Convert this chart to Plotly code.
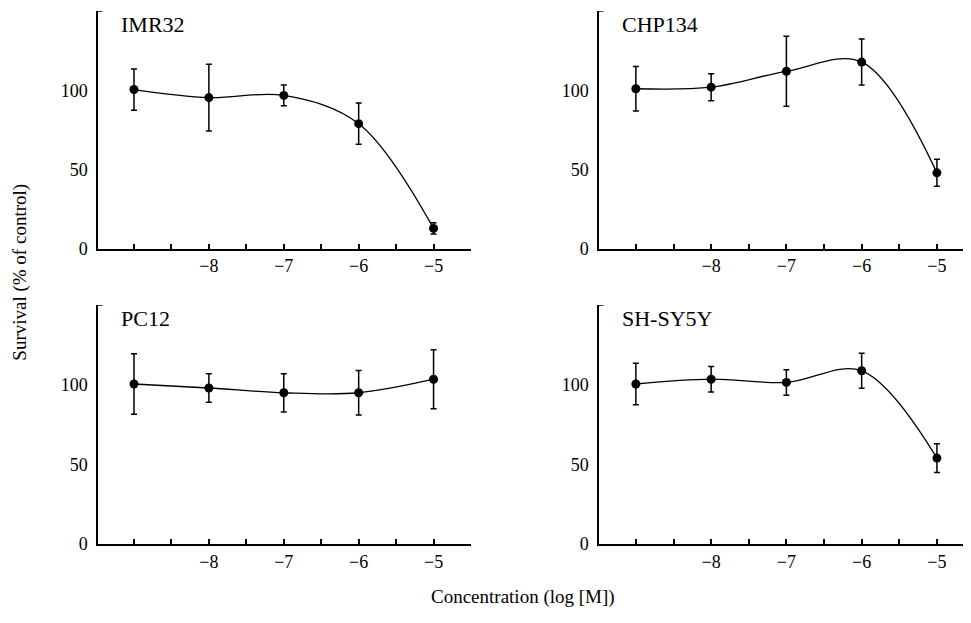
import plotly.graph_objects as go

conc = [-9, -8, -7, -6, -5]
panels = ["IMR32", "CHP134", "PC12", "SH-SY5Y"]
imr32_mean = [100.5, 95.4, 96.8, 79.0, 13.0]
imr32_err = [13.0, 21.0, 6.5, 13.0, 3.5]
chp134_mean = [101.0, 102.0, 112.0, 117.8, 48.0]
chp134_err = [14.0, 8.5, 22.0, 14.5, 8.5]
pc12_mean = [100.5, 98.0, 95.0, 95.0, 103.5]
pc12_err = [19.0, 9.0, 12.0, 14.0, 18.5]
shsy5y_mean = [100.5, 103.5, 101.5, 108.8, 54.0]
shsy5y_err = [13.0, 8.0, 8.0, 11.0, 9.0]

means = [imr32_mean, chp134_mean, pc12_mean, shsy5y_mean]
errs = [imr32_err, chp134_err, pc12_err, shsy5y_err]

xtick_vals = [-9, -8.5, -8, -7.5, -7, -6.5, -6, -5.5, -5, -4.5]
xtick_text = ["", "", "\u22128", "", "\u22127", "", "\u22126", "", "\u22125", ""]
ytick_vals = [0, 50, 100]
ytick_text = ["0", "50", "100"]

FONT = "Liberation Serif, Times New Roman, serif"

# page body has an 8px margin; figure is sized/placed to match the reference
W, H = 963, 615
xdomains = [[0.0935, 0.4808], [0.6137, 0.999], [0.0935, 0.4808], [0.6137, 0.999]]
ydomains = [[0.6016, 0.9951], [0.6016, 0.9951], [0.1138, 0.5089], [0.1138, 0.5089]]
xranges = [[-9.48, -4.5], [-9.49, -4.56], [-9.48, -4.5], [-9.49, -4.56]]

fig = go.Figure()
layout = {}
annotations = []
shapes = []
for i in range(4):
    sfx = "" if i == 0 else str(i + 1)
    fig.add_trace(go.Scatter(
        x=conc, y=means[i],
        mode="lines+markers",
        line=dict(color="black", width=1.3, shape="spline", smoothing=1.0),
        marker=dict(color="black", size=9),
        error_y=dict(type="data", array=errs[i], visible=True,
                     color="black", thickness=1.5, width=3),
        xaxis="x" + sfx, yaxis="y" + sfx, showlegend=False,
        hoverinfo="x+y",
    ))
    layout["xaxis" + sfx] = dict(
        domain=xdomains[i], anchor="y" + sfx, range=xranges[i],
        tickmode="array", tickvals=xtick_vals, ticktext=xtick_text,
        ticks="inside", ticklen=5, tickwidth=1.5, tickcolor="black",
        showline=True, linecolor="black", linewidth=1.5,
        showgrid=False, zeroline=False,
        tickfont=dict(family=FONT, size=18, color="black"),
    )
    layout["yaxis" + sfx] = dict(
        domain=ydomains[i], anchor="x" + sfx, range=[0, 150],
        tickmode="array", tickvals=ytick_vals, ticktext=ytick_text,
        ticks="", ticklabelstandoff=5,
        showline=True, linecolor="black", linewidth=1.5,
        showgrid=False, zeroline=False,
        tickfont=dict(family=FONT, size=18, color="black"),
    )
    annotations.append(dict(
        text=panels[i], xref="x" + sfx + " domain", yref="y" + sfx + " domain",
        x=0.056, y=0.942, xanchor="left", yanchor="middle", showarrow=False,
        font=dict(family=FONT, size=22, color="black"),
    ))
    shapes.append(dict(
        type="line", xref="x" + sfx + " domain", yref="y" + sfx,
        x0=0, x1=0.012, y0=150, y1=150,
        line=dict(color="black", width=1.5),
    ))

annotations.append(dict(
    text="Survival (% of control)", xref="paper", yref="paper",
    x=0.0125, y=0.5626, textangle=-90, showarrow=False,
    xanchor="center", yanchor="middle",
    font=dict(family=FONT, size=19, color="black"),
))
annotations.append(dict(
    text="Concentration (log [M])", xref="paper", yref="paper",
    x=0.5348, y=0.026, showarrow=False,
    xanchor="center", yanchor="middle",
    font=dict(family=FONT, size=19, color="black"),
))

fig.update_layout(
    width=W, height=H,
    margin=dict(l=0, r=0, t=0, b=0),
    paper_bgcolor="white", plot_bgcolor="white",
    annotations=annotations, shapes=shapes,
    **layout,
)

fig.write_html("out.html")
